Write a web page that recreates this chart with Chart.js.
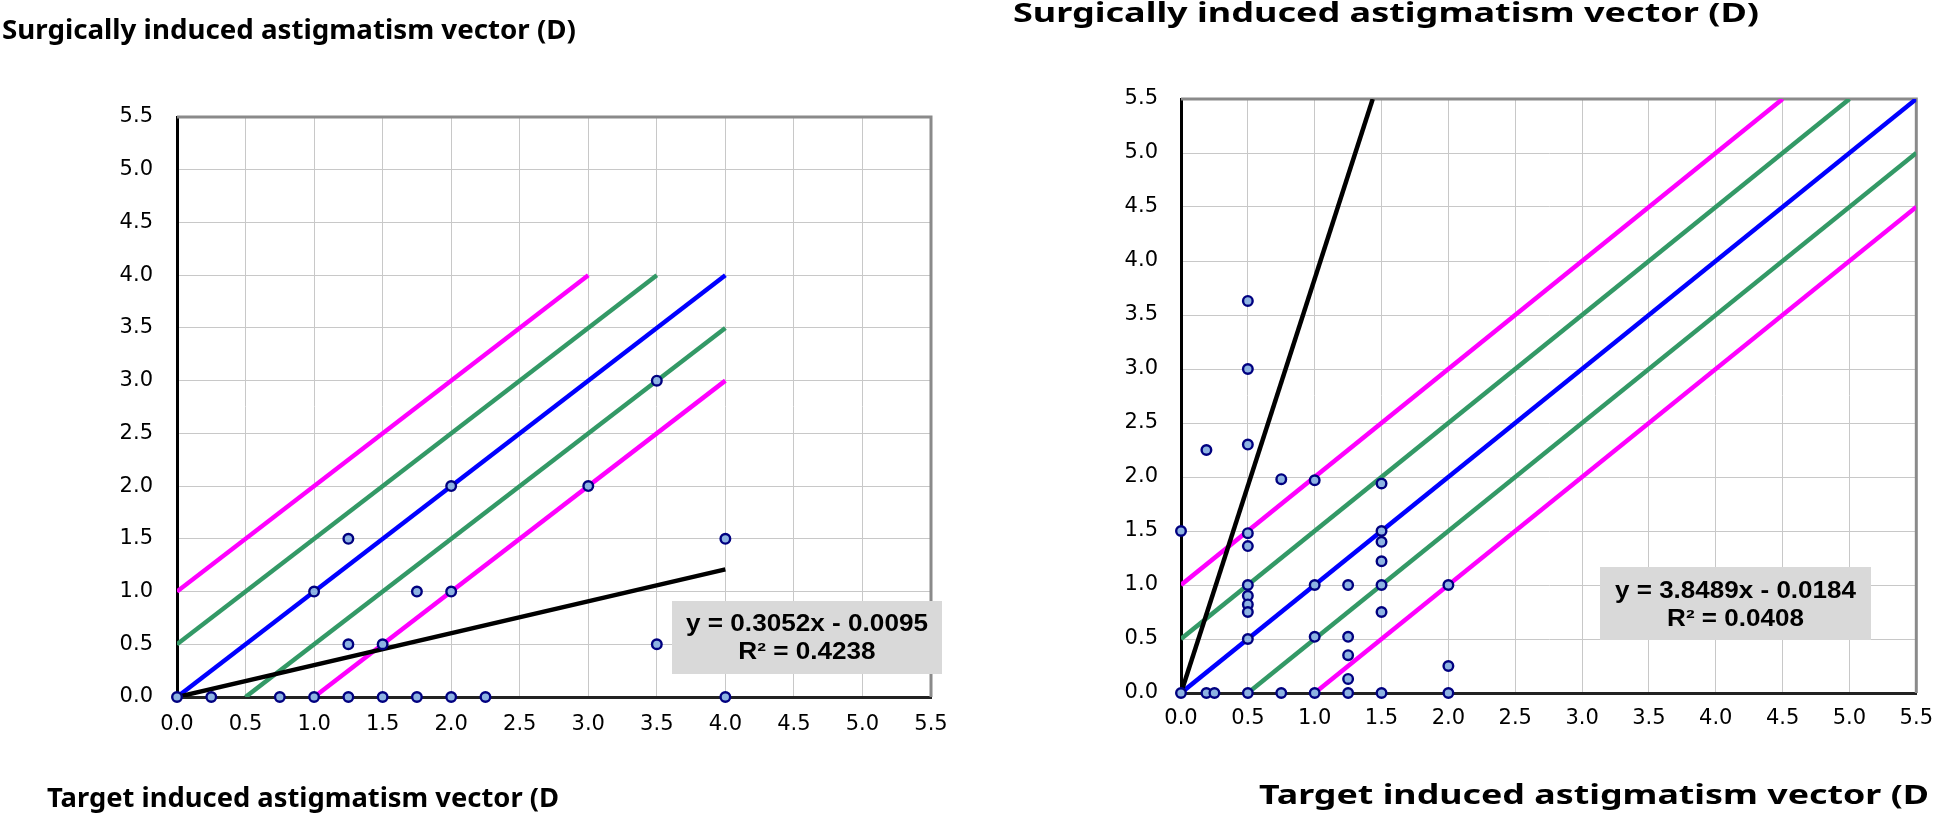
<!DOCTYPE html>
<html>
<head>
<meta charset="utf-8">
<title>Surgically vs target induced astigmatism</title>
<script src="https://cdn.jsdelivr.net/npm/chart.js@4.4.1/dist/chart.umd.min.js"></script>
<style>
  html, body { margin: 0; padding: 0; background: #ffffff; }
  #wrap { position: relative; width: 1946px; height: 813px; overflow: hidden; }
  canvas { position: absolute; top: 0; }
  #sia-left  { left: 0; }
  #sia-right { left: 973px; }
</style>
</head>
<body>
<div id="wrap">
  <canvas id="sia-left" width="973" height="813"></canvas>
  <canvas id="sia-right" width="973" height="813"></canvas>
</div>
<script>
// Axis ticks (both panels)
const sia_ticks = [0, 0.5, 1, 1.5, 2, 2.5, 3, 3.5, 4, 4.5, 5, 5.5];

// Left panel - target (x) vs surgically induced (y)
const left_x = [0, 0.25, 0.75, 1.0, 1.25, 1.5, 1.75, 2.0, 2.25, 4.0, 1.0, 1.25, 1.25, 1.5, 1.75, 2.0, 2.0, 3.0, 3.5, 3.5, 4.0];
const left_y = [0, 0, 0, 0, 0, 0, 0, 0, 0, 0, 1.0, 1.5, 0.5, 0.5, 1.0, 1.0, 2.0, 2.0, 3.0, 0.5, 1.5];

const left_trend_x = [0, 4];
const left_trend_y = [0, 1.21];

const left_ident_x  = [0, 4];    const left_ident_y  = [0, 4];
const left_plus05_x = [0, 3.5];  const left_plus05_y = [0.5, 4];
const left_min05_x  = [0.5, 4];  const left_min05_y  = [0, 3.5];
const left_plus1_x  = [0, 3];    const left_plus1_y  = [1, 4];
const left_min1_x   = [1, 4];    const left_min1_y   = [0, 3];

const left_equation = ['y = 0.3052x - 0.0095', 'R\u00b2 = 0.4238'];

// Right panel
const right_x = [0, 0, 0.19, 0.19, 0.25,
                 0.5, 0.5, 0.5, 0.5, 0.5, 0.5, 0.5, 0.5, 0.5, 0.5, 0.5,
                 0.75, 0.75,
                 1.0, 1.0, 1.0, 1.0,
                 1.25, 1.25, 1.25, 1.25, 1.25,
                 1.5, 1.5, 1.5, 1.5, 1.5, 1.5, 1.5,
                 2.0, 2.0, 2.0];
const right_y = [0, 1.5, 2.25, 0, 0,
                 3.63, 3.0, 2.3, 1.48, 1.36, 1.0, 0.9, 0.82, 0.75, 0.5, 0,
                 1.98, 0,
                 1.97, 1.0, 0.52, 0,
                 1.0, 0.52, 0.35, 0.13, 0,
                 1.94, 1.5, 1.4, 1.22, 1.0, 0.75, 0,
                 1.0, 0.25, 0];

const right_trend_x = [0, 1.434];
const right_trend_y = [0, 5.5];

const right_ident_x  = [0, 5.5];  const right_ident_y  = [0, 5.5];
const right_plus05_x = [0, 5];    const right_plus05_y = [0.5, 5.5];
const right_min05_x  = [0.5, 5.5]; const right_min05_y = [0, 5];
const right_plus1_x  = [0, 4.5];  const right_plus1_y  = [1, 5.5];
const right_min1_x   = [1, 5.5];  const right_min1_y   = [0, 4.5];

const right_equation = ['y = 3.8489x - 0.0184', 'R\u00b2 = 0.0408'];

const sia_y_title = 'Surgically induced astigmatism vector (D)';
const sia_x_title = 'Target induced astigmatism vector (D';

/**
 * Zip two value arrays into {x, y} points
 */
function sia_points( xs, ys ) {
    return xs.map( function ( x, i ) { return { x: x, y: ys[ i ] }; } );
}

/**
 * Draw text squeezed / stretched to a given width
 */
function sia_fit_text( ctx, text, x, baseline, width, font, align ) {
    ctx.save();
    ctx.font = font;
    let s = width / ctx.measureText( text ).width;
    ctx.translate( x, baseline );
    ctx.scale( s, 1 );
    ctx.textAlign = align;
    ctx.textBaseline = 'alphabetic';
    ctx.fillStyle = '#000000';
    ctx.fillText( text, 0, 0 );
    ctx.restore();
    return s;
}

// Frame (top / right), titles and the trendline equation box
const sia_decor = {
    id: 'siaDecor',
    beforeDatasetsDraw: function ( chart ) {
        let a = chart.chartArea, ctx = chart.ctx;
        ctx.save();
        ctx.strokeStyle = '#8a8a8a';
        ctx.lineWidth = 3;
        ctx.beginPath();
        ctx.moveTo( a.left, a.top );
        ctx.lineTo( a.right, a.top );
        ctx.lineTo( a.right, a.bottom );
        ctx.stroke();
        ctx.restore();
    },
    afterDraw: function ( chart, args, o ) {
        let ctx = chart.ctx;
        let tf = 'bold ' + o.titleSize + 'px "Noto Sans", "DejaVu Sans", sans-serif';
        sia_fit_text( ctx, o.yTitle, o.yTitleX, o.yTitleBase, o.yTitleW, tf, 'left' );
        sia_fit_text( ctx, o.xTitle, o.xTitleX, o.xTitleBase, o.xTitleW, tf, 'left' );

        // equation box
        let b = o.box;
        ctx.save();
        ctx.fillStyle = '#d9d9d9';
        ctx.fillRect( b.x, b.y, b.w, b.h );
        ctx.restore();
        let ef = 'bold 23px "Liberation Sans", Arial, sans-serif';
        let cx = b.x + b.w / 2;
        ctx.save();
        ctx.font = ef;
        let s = b.textW / ctx.measureText( o.equation[ 0 ] ).width;
        ctx.restore();
        [ 0, 1 ].forEach( function ( i ) {
            ctx.save();
            ctx.font = ef;
            ctx.translate( cx, b.lines[ i ] );
            ctx.scale( s, 1 );
            ctx.textAlign = 'center';
            ctx.textBaseline = 'middle';
            ctx.fillStyle = '#000000';
            ctx.fillText( o.equation[ i ], 0, 0 );
            ctx.restore();
        } );
    }
};

/**
 * Build one panel
 */
function sia_chart( id, d, layout ) {

    let line = function ( xs, ys, color ) {
        return {
            type: 'line',
            data: sia_points( xs, ys ),
            borderColor: color,
            borderWidth: 4.5,
            pointRadius: 0,
            fill: false,
            order: 2
        };
    };

    let tick_font = { family: '"DejaVu Sans", Verdana, sans-serif', size: 21 };

    return new Chart( document.getElementById( id ), {
        type: 'scatter',
        data: {
            datasets: [
                {
                    data: sia_points( d.x, d.y ),
                    pointRadius: 4.8,
                    pointBackgroundColor: '#8db3e2',
                    pointBorderColor: '#000080',
                    pointBorderWidth: 2.4,
                    showLine: false,
                    clip: false,
                    order: 0
                },
                Object.assign( line( d.trend_x, d.trend_y, '#000000' ), { order: 1 } ),
                line( d.ident_x, d.ident_y, '#0000ff' ),
                line( d.plus05_x, d.plus05_y, '#339966' ),
                line( d.min05_x, d.min05_y, '#339966' ),
                line( d.plus1_x, d.plus1_y, '#ff00ff' ),
                line( d.min1_x, d.min1_y, '#ff00ff' )
            ]
        },
        options: {
            responsive: false,
            animation: false,
            devicePixelRatio: 1,
            layout: { padding: layout.padding },
            scales: {
                x: {
                    type: 'linear',
                    min: 0,
                    max: 5.5,
                    afterBuildTicks: function ( s ) { s.ticks = sia_ticks.map( function ( v ) { return { value: v }; } ); },
                    afterFit: function ( s ) { s.height = 40; },
                    ticks: {
                        color: '#000000',
                        font: tick_font,
                        padding: layout.xPad,
                        maxRotation: 0,
                        autoSkip: false,
                        callback: function ( v ) { return Number( v ).toFixed( 1 ); }
                    },
                    grid: { color: '#c8c8c8', lineWidth: 1, drawTicks: false },
                    border: { color: '#222222', width: 3 }
                },
                y: {
                    type: 'linear',
                    min: 0,
                    max: 5.5,
                    afterBuildTicks: function ( s ) { s.ticks = sia_ticks.map( function ( v ) { return { value: v }; } ); },
                    afterFit: function ( s ) { s.width = 60; },
                    ticks: {
                        color: '#000000',
                        font: tick_font,
                        padding: layout.yPad,
                        autoSkip: false,
                        callback: function ( v ) { return Number( v ).toFixed( 1 ); }
                    },
                    grid: { color: '#c8c8c8', lineWidth: 1, drawTicks: false },
                    border: { color: '#000000', width: 3 }
                }
            },
            plugins: {
                legend: { display: false },
                tooltip: { enabled: false },
                siaDecor: layout.decor
            }
        },
        plugins: [ sia_decor ]
    } );
}

sia_chart( 'sia-left', {
    x: left_x, y: left_y,
    trend_x: left_trend_x, trend_y: left_trend_y,
    ident_x: left_ident_x, ident_y: left_ident_y,
    plus05_x: left_plus05_x, plus05_y: left_plus05_y,
    min05_x: left_min05_x, min05_y: left_min05_y,
    plus1_x: left_plus1_x, plus1_y: left_plus1_y,
    min1_x: left_min1_x, min1_y: left_min1_y
}, {
    padding: { left: 117, right: 42, top: 117, bottom: 76 },
    xPad: 15,
    yPad: 24,
    decor: {
        titleSize: 26,
        yTitle: sia_y_title, yTitleX: 2, yTitleBase: 39, yTitleW: 574,
        xTitle: sia_x_title, xTitleX: 47, xTitleBase: 807, xTitleW: 512,
        equation: left_equation,
        box: { x: 672, y: 601, w: 270, h: 73, textW: 242, lines: [ 625, 653 ] }
    }
} );

sia_chart( 'sia-right', {
    x: right_x, y: right_y,
    trend_x: right_trend_x, trend_y: right_trend_y,
    ident_x: right_ident_x, ident_y: right_ident_y,
    plus05_x: right_plus05_x, plus05_y: right_plus05_y,
    min05_x: right_min05_x, min05_y: right_min05_y,
    plus1_x: right_plus1_x, plus1_y: right_plus1_y,
    min1_x: right_min1_x, min1_y: right_min1_y
}, {
    padding: { left: 148, right: 18, top: 99, bottom: 80 },
    xPad: 13,
    yPad: 23,
    decor: {
        titleSize: 27,
        yTitle: sia_y_title, yTitleX: 40, yTitleBase: 22, yTitleW: 746,
        xTitle: sia_x_title, xTitleX: 286, xTitleBase: 804, xTitleW: 670,
        equation: right_equation,
        box: { x: 627, y: 567, w: 271, h: 73, textW: 241, lines: [ 592, 620 ] }
    }
} );
</script>
</body>
</html>
